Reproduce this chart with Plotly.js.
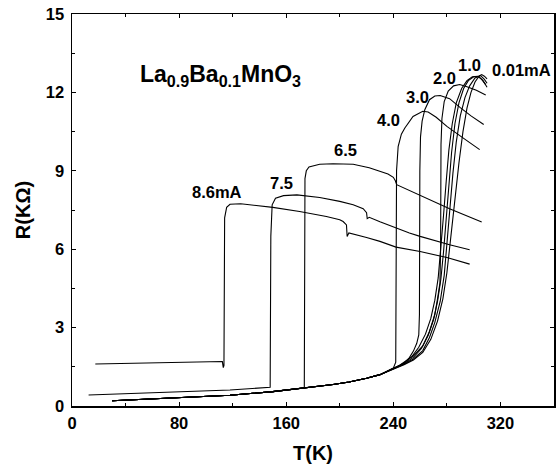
<!DOCTYPE html>
<html>
<head>
<meta charset="utf-8">
<script src="https://cdn.plot.ly/plotly-3.0.1.min.js"></script>
<style>html,body{margin:0;padding:0;background:#fff;}#chart{width:556px;height:465px;}</style>
</head>
<body>
<div id="chart"></div>
<script>
// ---- data (T in K, R in kOhm) ----
const xTickVals = [0, 80, 160, 240, 320];
const yTickVals = [0, 3, 6, 9, 12, 15];

// 8.6 mA
const t86 = [17.4, 60, 112.3, 113, 113.5, 114, 115.5, 118, 126, 150, 170, 190, 200, 202.5, 205, 205.5, 206.8, 220, 230, 242, 260, 280, 297];
const r86 = [1.61, 1.65, 1.70, 1.47, 1.55, 7.2, 7.6, 7.72, 7.74, 7.6, 7.44, 7.25, 7.13, 7.06, 6.93, 6.49, 6.62, 6.45, 6.30, 6.08, 5.91, 5.68, 5.43];
// 7.5 mA
const t75 = [12.4, 60, 118, 148, 148.5, 149.5, 152, 158, 168, 185, 200, 210, 217.5, 220, 220.5, 222, 230, 252, 260, 282, 297];
const r75 = [0.42, 0.50, 0.61, 0.72, 6.5, 7.7, 7.95, 8.05, 8.08, 7.98, 7.83, 7.7, 7.55, 7.4, 7.17, 7.22, 7.05, 6.62, 6.49, 6.17, 5.98];
// 6.5 mA
const t65 = [30, 60, 95, 118, 150, 173.5, 174, 175, 177, 185, 195, 210, 222, 230, 236, 240, 241.5, 242.5, 260, 282, 306];
const r65 = [0.20, 0.27, 0.36, 0.41, 0.55, 0.70, 8.7, 9.0, 9.15, 9.25, 9.27, 9.25, 9.12, 8.98, 8.88, 8.75, 8.62, 8.47, 8.06, 7.55, 7.04];
// 4.0 mA
const t40 = [30, 60, 95, 118, 150, 172, 195, 207, 220, 230, 240, 241.8, 242.2, 242.4, 243.6, 246, 248.6, 254.7, 262, 266, 272, 280, 292, 304.5];
const r40 = [0.20, 0.27, 0.36, 0.41, 0.55, 0.67, 0.82, 0.92, 1.06, 1.20, 1.45, 1.68, 5.0, 9.0, 9.93, 10.4, 10.64, 11.08, 11.28, 11.25, 11.05, 10.7, 10.26, 9.81];
// 3.0 mA
const t30 = [30, 60, 95, 118, 150, 172, 195, 207, 220, 230, 240, 245, 248.5, 252, 255, 257.5, 259, 259.5, 259.8, 260.3, 261.5, 263.5, 267, 271, 275, 282, 290, 298, 307.5];
const r30 = [0.20, 0.27, 0.36, 0.41, 0.55, 0.67, 0.82, 0.92, 1.06, 1.20, 1.42, 1.55, 1.66, 1.85, 2.1, 2.4, 2.72, 3.5, 9.0, 10.3, 10.9, 11.34, 11.72, 11.86, 11.88, 11.76, 11.42, 11.1, 10.77];
// 2.0 mA
const t20 = [30, 60, 95, 118, 150, 172, 195, 207, 220, 230, 240, 245, 255, 262, 267, 271, 273, 274.8, 275.3, 275.6, 276.3, 278, 281, 285, 289.6, 295, 302, 309];
const r20 = [0.20, 0.27, 0.36, 0.41, 0.55, 0.67, 0.82, 0.92, 1.06, 1.20, 1.43, 1.57, 1.92, 2.3, 2.85, 3.5, 4.1, 4.7, 6.0, 10.0, 11.0, 11.65, 12.05, 12.25, 12.3, 12.22, 12.08, 11.9];
// 1.0 mA
const t10 = [30, 60, 95, 118, 150, 172, 195, 207, 220, 230, 240, 248, 254, 259, 264, 268, 271, 273.5, 275.5, 277.5, 279.5, 281.5, 284, 287, 291, 295, 299, 303, 306, 309];
const r10 = [0.20, 0.27, 0.36, 0.41, 0.55, 0.67, 0.82, 0.92, 1.06, 1.20, 1.43, 1.65, 1.9, 2.25, 2.75, 3.35, 4.05, 4.9, 6.0, 7.3, 8.6, 9.8, 10.8, 11.6, 12.15, 12.45, 12.6, 12.62, 12.5, 12.3];
// unlabeled intermediate currents inside the bundle
const tA = [30, 60, 95, 118, 150, 172, 195, 207, 220, 230, 240, 248, 255, 261, 266, 270, 273, 275.5, 277.5, 279.5, 281.5, 283.5, 286, 289, 292.5, 296, 300, 304, 307, 310];
const rA = [0.20, 0.27, 0.36, 0.41, 0.55, 0.67, 0.82, 0.92, 1.06, 1.20, 1.42, 1.62, 1.86, 2.2, 2.7, 3.3, 4.0, 4.85, 5.9, 7.2, 8.5, 9.7, 10.8, 11.6, 12.15, 12.45, 12.6, 12.6, 12.45, 12.2];
const tB = [30, 60, 95, 118, 150, 172, 195, 207, 220, 230, 240, 248, 255, 262, 267, 271, 275, 278, 280, 282, 284.5, 287, 290, 293.5, 297, 301, 305, 308, 310];
const rB = [0.20, 0.27, 0.36, 0.41, 0.55, 0.67, 0.82, 0.92, 1.06, 1.20, 1.41, 1.6, 1.8, 2.12, 2.62, 3.2, 4.0, 5.0, 6.2, 7.5, 8.9, 10.1, 11.1, 11.8, 12.25, 12.55, 12.65, 12.5, 12.35];
// 0.01 mA
const t001 = [30, 60, 95, 118, 150, 172, 195, 207, 220, 230, 240, 248, 255, 262, 268, 273, 277, 280, 283, 286, 289, 292, 295, 298, 301, 304, 306, 308, 310];
const r001 = [0.20, 0.27, 0.36, 0.41, 0.55, 0.67, 0.82, 0.92, 1.06, 1.20, 1.40, 1.58, 1.76, 2.05, 2.55, 3.25, 4.1, 5.1, 6.5, 8.0, 9.3, 10.5, 11.4, 12.0, 12.4, 12.62, 12.68, 12.62, 12.52];

// curve labels
const labelText = ['8.6mA', '7.5', '6.5', '4.0', '3.0', '2.0', '1.0', '0.01mA'];
const labelT = [108.4, 156.3, 204.3, 236.1, 257.7, 278.1, 296.8, 336.0];
const labelR = [8.18, 8.52, 9.79, 10.94, 11.83, 12.57, 13.03, 12.85];
const compound = 'La<sub>0.9</sub>Ba<sub>0.1</sub>MnO<sub>3</sub>';
const compoundT = 49.3, compoundR = 12.65;

// ---- build ----
const series = [
  ['8.6 mA', t86, r86], ['7.5 mA', t75, r75], ['6.5 mA', t65, r65],
  ['4.0 mA', t40, r40], ['3.0 mA', t30, r30], ['2.0 mA', t20, r20],
  ['1.0 mA', t10, r10], ['', tA, rA], ['', tB, rB], ['0.01 mA', t001, r001]
];
const traces = series.map(s => ({
  type: 'scatter', mode: 'lines', name: s[0], x: s[1], y: s[2],
  line: {color: '#000', width: 1.1}, showlegend: false, hoverinfo: 'skip'
}));

const FONT = 'Liberation Sans, Arial, Helvetica, sans-serif';
const annotations = labelText.map((t, i) => ({
  x: labelT[i], y: labelR[i], xref: 'x', yref: 'y', text: t, showarrow: false,
  xanchor: 'center', yanchor: 'middle',
  font: {family: FONT, size: 16.5, color: '#000', weight: 'bold'}
}));
annotations.push({
  x: compoundT, y: compoundR, xref: 'x', yref: 'y', text: compound, showarrow: false,
  xanchor: 'left', yanchor: 'middle',
  font: {family: FONT, size: 23, color: '#000', weight: 'bold'}
});

const axisCommon = {
  showgrid: false, zeroline: false, showline: true, linecolor: '#000', linewidth: 1.5,
  mirror: 'allticks', ticks: 'inside', ticklen: 4, tickwidth: 1.2, tickcolor: '#000',
  tickfont: {family: FONT, size: 16.5, color: '#000', weight: 'bold'}
};

const layout = {
  width: 556, height: 465,
  margin: {l: 72, r: 2, t: 14, b: 59},
  paper_bgcolor: '#fff', plot_bgcolor: '#fff',
  xaxis: Object.assign({}, axisCommon, {
    range: [0, 360], tickmode: 'array', tickvals: xTickVals, ticklabelstandoff: 2,
    minor: {tickvals: [40, 120, 200, 280], ticks: 'inside', ticklen: 3, tickcolor: '#000', tickwidth: 1},
    title: {text: 'T(K)', font: {family: FONT, size: 20, color: '#000', weight: 'bold'}, standoff: 14}
  }),
  yaxis: Object.assign({}, axisCommon, {
    range: [0, 15], tickmode: 'array', tickvals: yTickVals, ticklabelstandoff: 3,
    minor: {tickvals: [1.5, 4.5, 7.5, 10.5, 13.5], ticks: 'inside', ticklen: 3, tickcolor: '#000', tickwidth: 1},
    title: {text: 'R(KΩ)', font: {family: FONT, size: 20, color: '#000', weight: 'bold'}, standoff: 10}
  }),
  annotations: annotations
};

Plotly.newPlot('chart', traces, layout, {displayModeBar: false, staticPlot: true});
</script>
</body>
</html>
